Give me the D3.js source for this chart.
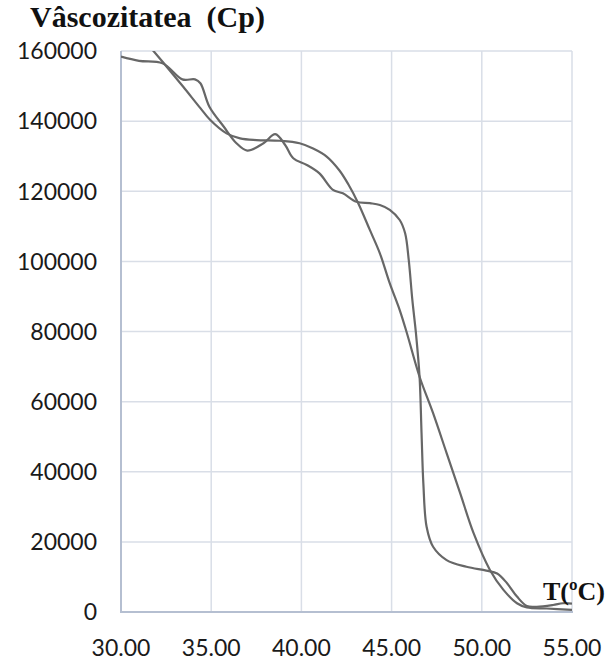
<!DOCTYPE html>
<html>
<head>
<meta charset="utf-8">
<script src="https://cdn.jsdelivr.net/npm/d3@7"></script>
<style>
  html, body { margin: 0; padding: 0; background: #fff; }
  svg { display: block; }
</style>
</head>
<body>
<svg id="chart" width="609" height="662"></svg>
<script>
// Viscosity (cP) against temperature (°C), two samples
const yTicks = [0, 20000, 40000, 60000, 80000, 100000, 120000, 140000, 160000];
const xTicks = [30, 35, 40, 45, 50, 55];

const tempA = [30.0, 31.0, 32.3, 33.4, 34.1, 34.4, 34.9, 35.7, 36.4, 37.0, 37.9, 38.55, 39.1, 39.55, 40.3, 41.0, 41.75, 42.3, 43.05, 43.8, 44.35, 44.9, 45.45, 45.75, 45.95, 46.15, 46.35, 46.55, 46.66, 46.76, 46.94, 47.3, 48.05, 49.15, 50.25, 50.85, 51.4, 51.95, 52.5, 53.05, 53.95, 54.5, 55.0];
const viscA = [158400, 157200, 156500, 151900, 151900, 150800, 144100, 138400, 133700, 131600, 133700, 136300, 133200, 129400, 127500, 125100, 120400, 119400, 117000, 116600, 116100, 114700, 111800, 108000, 100400, 89000, 79500, 67100, 51000, 36700, 24300, 18600, 14800, 12900, 11800, 11000, 8200, 4400, 1700, 1500, 2000, 2500, 2400];

const tempB = [31.5, 31.8, 32.6, 33.45, 34.4, 34.95, 35.85, 36.6, 37.5, 38.8, 39.9, 40.65, 41.4, 42.1, 42.6, 43.15, 43.8, 44.35, 44.9, 45.45, 45.85, 46.55, 47.3, 48.05, 48.8, 49.55, 50.45, 51.2, 51.95, 52.5, 53.6, 55.0];
const viscB = [161800, 160000, 155100, 149800, 143700, 140300, 136500, 135100, 134600, 134400, 133700, 132200, 129900, 126000, 122000, 116600, 108900, 102300, 93700, 86100, 79500, 67100, 56700, 45300, 33900, 22400, 12000, 6300, 2500, 1300, 1000, 600];

const svg = d3.select("#chart");
const plotLeft = 121, plotRight = 572, plotTop = 51, plotBottom = 612;

const x = d3.scaleLinear().domain([30, 55]).range([plotLeft, plotRight]);
const y = d3.scaleLinear().domain([0, 160000]).range([plotBottom, plotTop]);

// grid
svg.append("g").selectAll("line").data(yTicks.filter(d => d > 0)).join("line")
  .attr("x1", plotLeft).attr("x2", plotRight)
  .attr("y1", d => y(d)).attr("y2", d => y(d))
  .attr("stroke", "#d9dee7").attr("stroke-width", 1.5);
svg.append("g").selectAll("line").data(xTicks.filter(d => d > 30)).join("line")
  .attr("x1", d => x(d)).attr("x2", d => x(d))
  .attr("y1", plotTop).attr("y2", plotBottom)
  .attr("stroke", "#d9dee7").attr("stroke-width", 1.5);

// axis lines
svg.append("line").attr("x1", plotLeft).attr("x2", plotLeft).attr("y1", plotTop).attr("y2", plotBottom + 1)
  .attr("stroke", "#b5bfd1").attr("stroke-width", 2);
svg.append("line").attr("x1", plotLeft).attr("x2", plotRight + 1).attr("y1", plotBottom).attr("y2", plotBottom)
  .attr("stroke", "#b5bfd1").attr("stroke-width", 2);

// tick labels
svg.append("g").selectAll("text").data(yTicks).join("text")
  .attr("x", 97).attr("y", d => y(d)).attr("dy", "0.36em")
  .attr("text-anchor", "end")
  .attr("font-family", "Lato, sans-serif").attr("font-size", 23)
  .attr("fill", "#1a1a1a")
  .text(d => String(d));

svg.append("g").selectAll("text").data(xTicks).join("text")
  .attr("x", d => x(d)).attr("y", 656)
  .attr("text-anchor", "middle")
  .attr("font-family", "Lato, sans-serif").attr("font-size", 23)
  .attr("fill", "#1a1a1a")
  .text(d => d.toFixed(2));

// curves (smoothed, clipped to the plot area)
svg.append("clipPath").attr("id", "plot-clip").append("rect")
  .attr("x", plotLeft).attr("y", plotTop).attr("width", plotRight - plotLeft).attr("height", plotBottom - plotTop);

const line = d3.line().x(d => x(d[0])).y(d => y(d[1])).curve(d3.curveCatmullRom.alpha(0.5));
const seriesA = tempA.map((t, i) => [t, viscA[i]]);
const seriesB = tempB.map((t, i) => [t, viscB[i]]);

svg.append("g").attr("clip-path", "url(#plot-clip)")
  .selectAll("path").data([seriesA, seriesB]).join("path")
  .attr("d", line)
  .attr("fill", "none")
  .attr("stroke", "#676767")
  .attr("stroke-width", 2.2)
  .attr("stroke-linejoin", "round");

// titles
svg.append("text").attr("x", 30).attr("y", 27)
  .attr("font-family", "'Liberation Serif', 'Times New Roman', serif")
  .attr("font-weight", "bold").attr("font-size", 30).attr("fill", "#111")
  .text("Vâscozitatea\u00a0 (Cp)");

svg.append("text").attr("x", 543).attr("y", 600)
  .attr("font-family", "'Liberation Serif', 'Times New Roman', serif")
  .attr("font-weight", "bold").attr("font-size", 26).attr("fill", "#111")
  .text("T(ºC)");
</script>
</body>
</html>
